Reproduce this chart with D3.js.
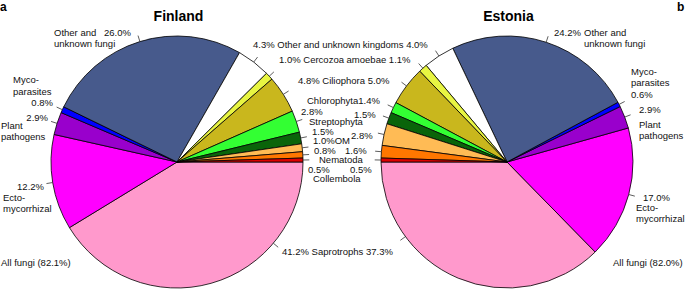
<!DOCTYPE html>
<html><head><meta charset="utf-8">
<script src="https://cdn.jsdelivr.net/npm/d3@7/dist/d3.min.js"></script>
<style>
html,body{margin:0;padding:0;background:#fff;}
svg{display:block;font-family:"Liberation Sans",Arial,sans-serif;}
</style></head>
<body>
<svg id="chart" width="685" height="289"></svg>
<script>
// ---- data ----
const categories = ["Saprotrophs","Ectomycorrhizal","Plant pathogens","Mycoparasites","Other and unknown fungi",
  "Other and unknown kingdoms","Cercozoa amoebae","Ciliophora","Chlorophyta","Streptophyta","OM","Nematoda","Collembola"];
const finlandValues = [41.2, 12.2, 2.9, 0.8, 26.0, 4.3, 1.0, 4.8, 2.8, 1.5, 1.0, 0.8, 0.5];
const estoniaValues = [37.3, 17.0, 2.9, 0.6, 24.2, 4.0, 1.1, 5.0, 1.4, 1.5, 2.8, 1.6, 0.5];
const sliceColors = ["#ff99cc","#ff00ff","#9900cc","#0000ff","#475a8c",
  "#ffffff","#e8f542","#c9b71d","#33ff33","#0a640a","#ffbb55","#ff7700","#dd0000"];

// ---- layout ----
const svg = d3.select("#chart");
const R = 126;
const FS = 9.5;
// fraction along each slice where the leader tick sits
const tickFrac = [0.27,0.5,0.5,0.5,0.5,0.5,0.5,0.5,0.5,0.5,0.5,0.5,0.5];

const pies = [
  {name:"Finland", values:finlandValues, cx:177, cy:162, start:Math.PI/2, end:Math.PI/2+2*Math.PI},
  {name:"Estonia", values:estoniaValues, cx:507, cy:162, start:3*Math.PI/2, end:3*Math.PI/2-2*Math.PI}
];

const arc = d3.arc().innerRadius(0).outerRadius(R);

pies.forEach(p => {
  const pie = d3.pie().sort(null).value(d => d).startAngle(p.start).endAngle(p.end);
  const arcs = pie(p.values);
  const g = svg.append("g").attr("transform", `translate(${p.cx},${p.cy})`);
  g.selectAll("path").data(arcs).join("path")
    .attr("d", arc)
    .attr("fill", (d,i) => sliceColors[i])
    .attr("stroke", "#000")
    .attr("stroke-width", 0.8)
    .attr("stroke-linejoin", "round");
  g.selectAll("line.tick").data(arcs).join("line")
    .attr("class","tick")
    .each(function(d,i){
      const a = d.startAngle + (d.endAngle - d.startAngle) * tickFrac[i];
      d3.select(this)
        .attr("x1", R*Math.sin(a)).attr("y1", -R*Math.cos(a))
        .attr("x2", 1.05*R*Math.sin(a)).attr("y2", -1.05*R*Math.cos(a));
    })
    .attr("stroke","#333").attr("stroke-width",0.8);
  svg.append("text").attr("x", p.cx + 1.5).attr("y", 21)
    .attr("text-anchor","middle").attr("font-weight","bold").attr("font-size",14)
    .text(p.name);
});

// panel letters
svg.append("text").attr("x",0).attr("y",11).attr("font-weight","bold").attr("font-size",12).text("a");
svg.append("text").attr("x",677).attr("y",11).attr("font-weight","bold").attr("font-size",12).text("b");

// ---- labels: [text, x, y, anchor] ----
const labels = [
  // Finland outer
  ["Other and",54,35.5,"start"],["26.0%",104,35.5,"start"],["unknown fungi",54,47,"start"],
  ["Myco-",13,83,"start"],["parasites",13,94.5,"start"],["0.8%",53,106,"end"],
  ["2.9%",48,121,"end"],["Plant",1,129,"start"],["pathogens",1,140,"start"],
  ["12.2%",44,190,"end"],["Ecto-",3,201,"start"],["mycorrhizal",3,212,"start"],
  ["All fungi (82.1%)",1,266,"start"],
  // centre
  ["4.3% Other and unknown kingdoms 4.0%",253,48,"start"],
  ["1.0% Cercozoa amoebae 1.1%",279,63,"start"],
  ["4.8% Ciliophora 5.0%",298,84,"start"],
  ["Chlorophyta1.4%",307,104,"start"],
  ["2.8%",301,115,"start"],["1.5%",354,118,"start"],
  ["Streptophyta",309,125,"start"],
  ["1.5%",312,134.5,"start"],["2.8%",351,139,"start"],
  ["1.0%OM",313,144,"start"],
  ["0.8%",314,154,"start"],["1.6%",345,154,"start"],
  ["Nematoda",319,163,"start"],
  ["0.5%",308,173,"start"],["0.5%",350,173,"start"],
  ["Collembola",313,182,"start"],
  ["41.2% Saprotrophs 37.3%",282,255,"start"],
  // Estonia outer
  ["24.2%",554,35.5,"start"],["Other and",584,35.5,"start"],["unknown fungi",584,47,"start"],
  ["Myco-",631,75,"start"],["parasites",631,86,"start"],["0.6%",631,98,"start"],
  ["2.9%",639,113,"start"],["Plant",639,128,"start"],["pathogens",639,139,"start"],
  ["17.0%",643,200.5,"start"],["Ecto-",636,211,"start"],["mycorrhizal",636,222,"start"],
  ["All fungi (82.0%)",613,266,"start"]
];

svg.append("g").selectAll("text").data(labels).join("text")
  .attr("x", d => d[1]).attr("y", d => d[2])
  .attr("text-anchor", d => d[3])
  .attr("font-size", FS).attr("fill","#111")
  .text(d => d[0]);
</script>
</body></html>
